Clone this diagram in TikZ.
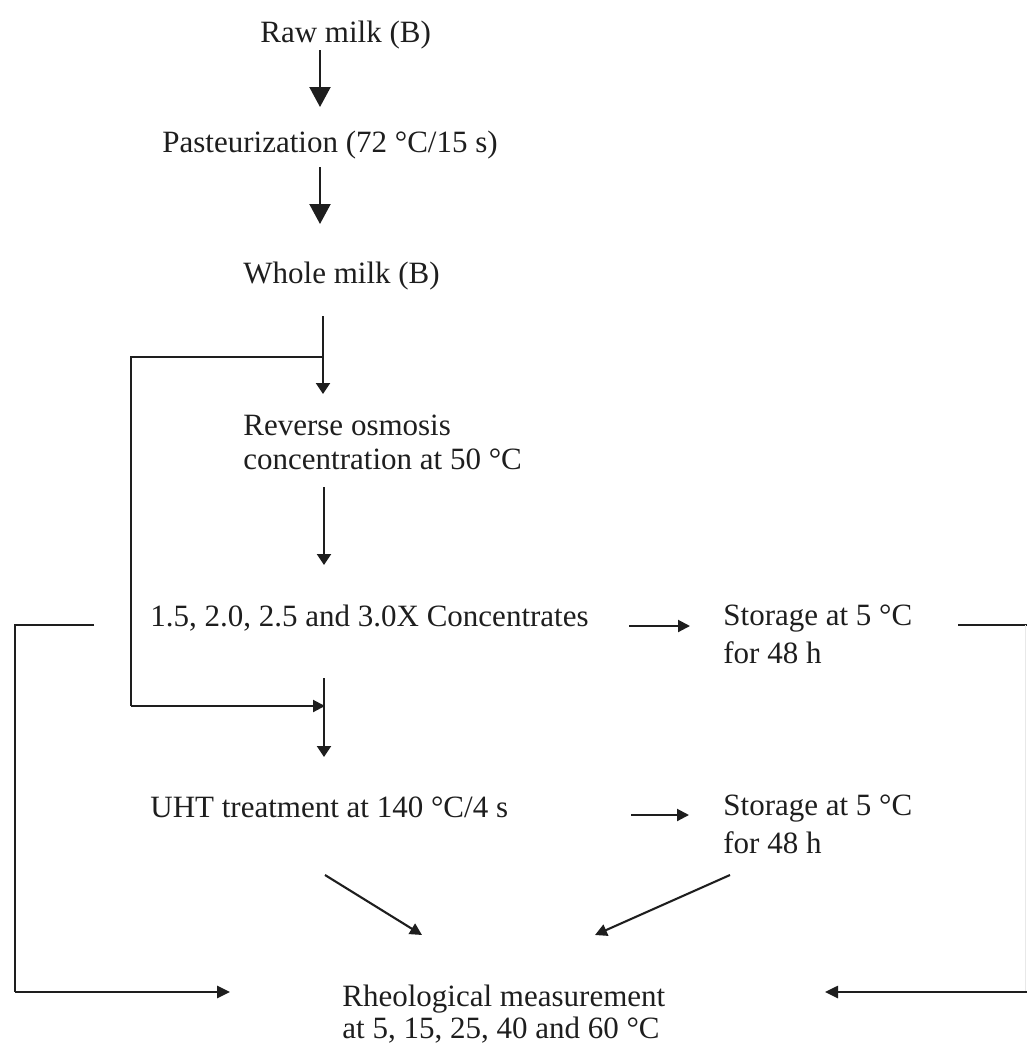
\documentclass[tikz,border=0pt]{standalone}
\usepackage{fontspec}
\setmainfont{Liberation Serif}
\usetikzlibrary{arrows.meta}
\definecolor{ink}{HTML}{1E1E1E}
\begin{document}
\begin{tikzpicture}[x=0.5pt,y=-0.5pt,
  lbl/.style={anchor=base west, inner sep=0pt, text=ink, font=\fontsize{15.5}{18}\selectfont},
  conn/.style={draw=ink, line width=1.05pt},
  bigarr/.style={conn, -{Triangle[width=10.5pt,length=10pt]}},
  smallarr/.style={conn, -{Triangle[width=7pt,length=5.5pt]}},
  midarr/.style={conn, -{Triangle[width=6pt,length=6pt]}},
  bracket/.style={draw=ink, line width=1.3pt},
  bracketarr/.style={bracket, -{Triangle[width=6pt,length=6.5pt]}},
  faint/.style={draw=gray!18, line width=0.8pt},
]
\useasboundingbox (0,0) rectangle (1027,1050);
\fill[white] (0,0) rectangle (1027,1050);

% texts
\node[lbl] (raw)   at (260,42)   {Raw milk (B)};
\node[lbl] (past)  at (162,152)  {Pasteurization (72 °C/15 s)};
\node[lbl] (whole) at (243,283)  {Whole milk (B)};
\node[lbl] (ro)    at (243,435)  {Reverse osmosis};
\node[lbl] (rob)   at (243,469)  {concentration at 50 °C};
\node[lbl] (conc)  at (150,626)  {1.5, 2.0, 2.5 and 3.0X Concentrates};
\node[lbl] (sta)   at (723,625)  {Storage at 5 °C};
\node[lbl] (stab)  at (723,663)  {for 48 h};
\node[lbl] (uht)   at (150,817)  {UHT treatment at 140 °C/4 s};
\node[lbl] (stb)   at (723,815)  {Storage at 5 °C};
\node[lbl] (stbb)  at (723,853)  {for 48 h};
\node[lbl] (rh)    at (342,1006) {Rheological measurement};
\node[lbl] (rhb)   at (342,1038) {at 5, 15, 25, 40 and 60 °C};

% connector end points
\coordinate (a1s) at (320,50);   \coordinate (a1e) at (320,107);
\coordinate (a2s) at (320,167);  \coordinate (a2e) at (320,224);
\coordinate (a3s) at (323,316);  \coordinate (a3j) at (323,357);  \coordinate (a3e) at (323,394);
\coordinate (lpA) at (131,357);  \coordinate (lpB) at (131,706);  \coordinate (lpE) at (325,706);
\coordinate (a4s) at (324,487);  \coordinate (a4e) at (324,565);
\coordinate (a5s) at (324,678);  \coordinate (a5e) at (324,757);
\coordinate (h1s) at (629,626);  \coordinate (h1e) at (690,626);
\coordinate (h2s) at (631,815);  \coordinate (h2e) at (689,815);
\coordinate (lbA) at (94,625);   \coordinate (lbB) at (15,625);
\coordinate (lbC) at (15,992);   \coordinate (lbE) at (230,992);
\coordinate (rbA) at (958,625);  \coordinate (rbB) at (1027,625);
\coordinate (rfA) at (1025.5,625); \coordinate (rfB) at (1025.5,992);
\coordinate (rbC) at (1027,992); \coordinate (rbE) at (825,992);
\coordinate (d1s) at (325,875);  \coordinate (d1e) at (422,935);
\coordinate (d2s) at (730,875);  \coordinate (d2e) at (595,935);

% connectors
\draw[bigarr] (a1s) -- (a1e);
\draw[bigarr] (a2s) -- (a2e);
\draw[smallarr] (a3s) -- (a3e);
\draw[bracket] (a3j) -- (lpA) -- (lpB);
\draw[midarr] (lpB) -- (lpE);
\draw[smallarr] (a4s) -- (a4e);
\draw[smallarr] (a5s) -- (a5e);
\draw[midarr] (h1s) -- (h1e);
\draw[midarr] (h2s) -- (h2e);
\draw[bracket] (lbA) -- (lbB) -- (lbC);
\draw[bracketarr] (lbC) -- (lbE);
\draw[bracket] (rbA) -- (rbB);
\draw[faint] (rfA) -- (rfB);
\draw[bracketarr] (rbC) -- (rbE);
\draw[midarr] (d1s) -- (d1e);
\draw[midarr] (d2s) -- (d2e);
\end{tikzpicture}
\end{document}
